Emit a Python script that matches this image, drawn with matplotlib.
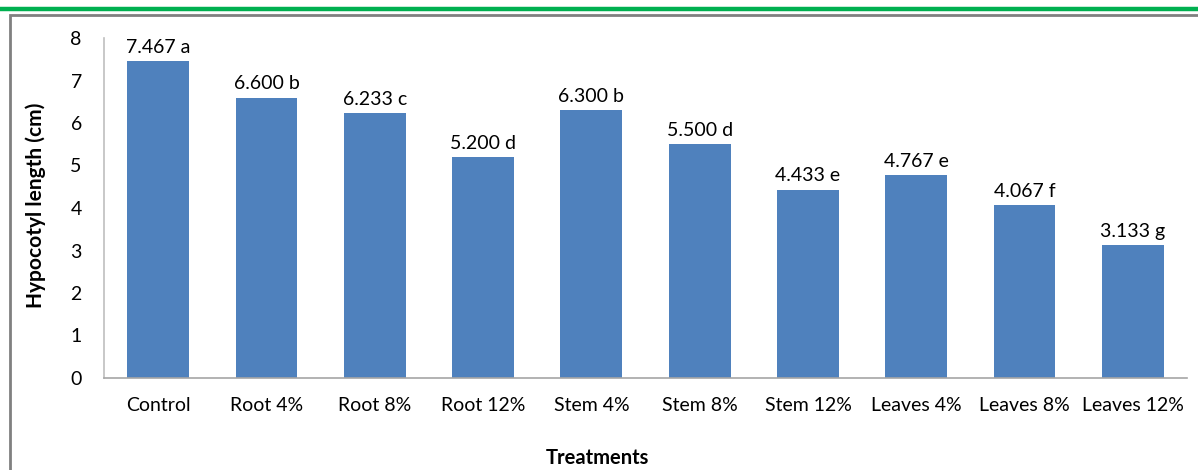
import matplotlib
matplotlib.use("Agg")
import matplotlib.pyplot as plt
from matplotlib.lines import Line2D
from matplotlib.patches import Rectangle

plt.rcParams['font.family'] = ['Lato', 'DejaVu Sans']

treatments = ["Control", "Root 4%", "Root 8%", "Root 12%", "Stem 4%",
              "Stem 8%", "Stem 12%", "Leaves 4%", "Leaves 8%", "Leaves 12%"]
hypocotyl = [7.467, 6.600, 6.233, 5.200, 6.300, 5.500, 4.433, 4.767, 4.067, 3.133]
letters = ["a", "b", "c", "d", "b", "d", "e", "e", "f", "g"]

W, H = 1198, 470
fig = plt.figure(figsize=(W / 100, H / 100), dpi=100)

# green rule across the top and the grey frame around the chart
fig.add_artist(Line2D([0, 1], [1 - 9 / H, 1 - 9 / H], color="#00B050",
                      linewidth=3.2, transform=fig.transFigure))
fig.add_artist(Rectangle((10 / W, -0.05), 1.2, 1.05 - 15 / H, fill=False,
                         edgecolor="#808080", linewidth=2.0,
                         transform=fig.transFigure))

ax = fig.add_axes([104 / W, 1 - 378 / H, (1187 - 104) / W, (378 - 38) / H])

x = range(len(treatments))
bars = ax.bar(x, hypocotyl, width=0.57, color="#4F81BD", zorder=2)

for rect, val, let in zip(bars, hypocotyl, letters):
    ax.text(rect.get_x() + rect.get_width() / 2, val + 0.12,
            f"{val:.3f} {let}", ha="center", va="bottom", fontsize=14,
            color="#000000")

ax.set_xlim(-0.5, len(treatments) - 0.5)
ax.set_ylim(0, 8)
ax.set_yticks(range(0, 9))
ax.set_xticks(list(x))
ax.set_xticklabels(treatments)
ax.tick_params(axis="both", length=0, labelsize=14)
ax.tick_params(axis="y", pad=16)
ax.tick_params(axis="x", pad=14)

for side in ("top", "right"):
    ax.spines[side].set_visible(False)
ax.spines["left"].set_color("#BFBFBF")
ax.spines["bottom"].set_color("#A6A6A6")
ax.spines["left"].set_linewidth(1.2)
ax.spines["bottom"].set_linewidth(1.2)

fig.text(36 / W, 1 - 205 / H, "Hypocotyl length (cm)", rotation=90,
         ha="center", va="center", fontsize=15, fontweight="bold")
fig.text(597 / W, 1 - 458 / H, "Treatments", ha="center", va="center",
         fontsize=14.5, fontweight="bold")

fig.savefig("out.png", dpi=100)
